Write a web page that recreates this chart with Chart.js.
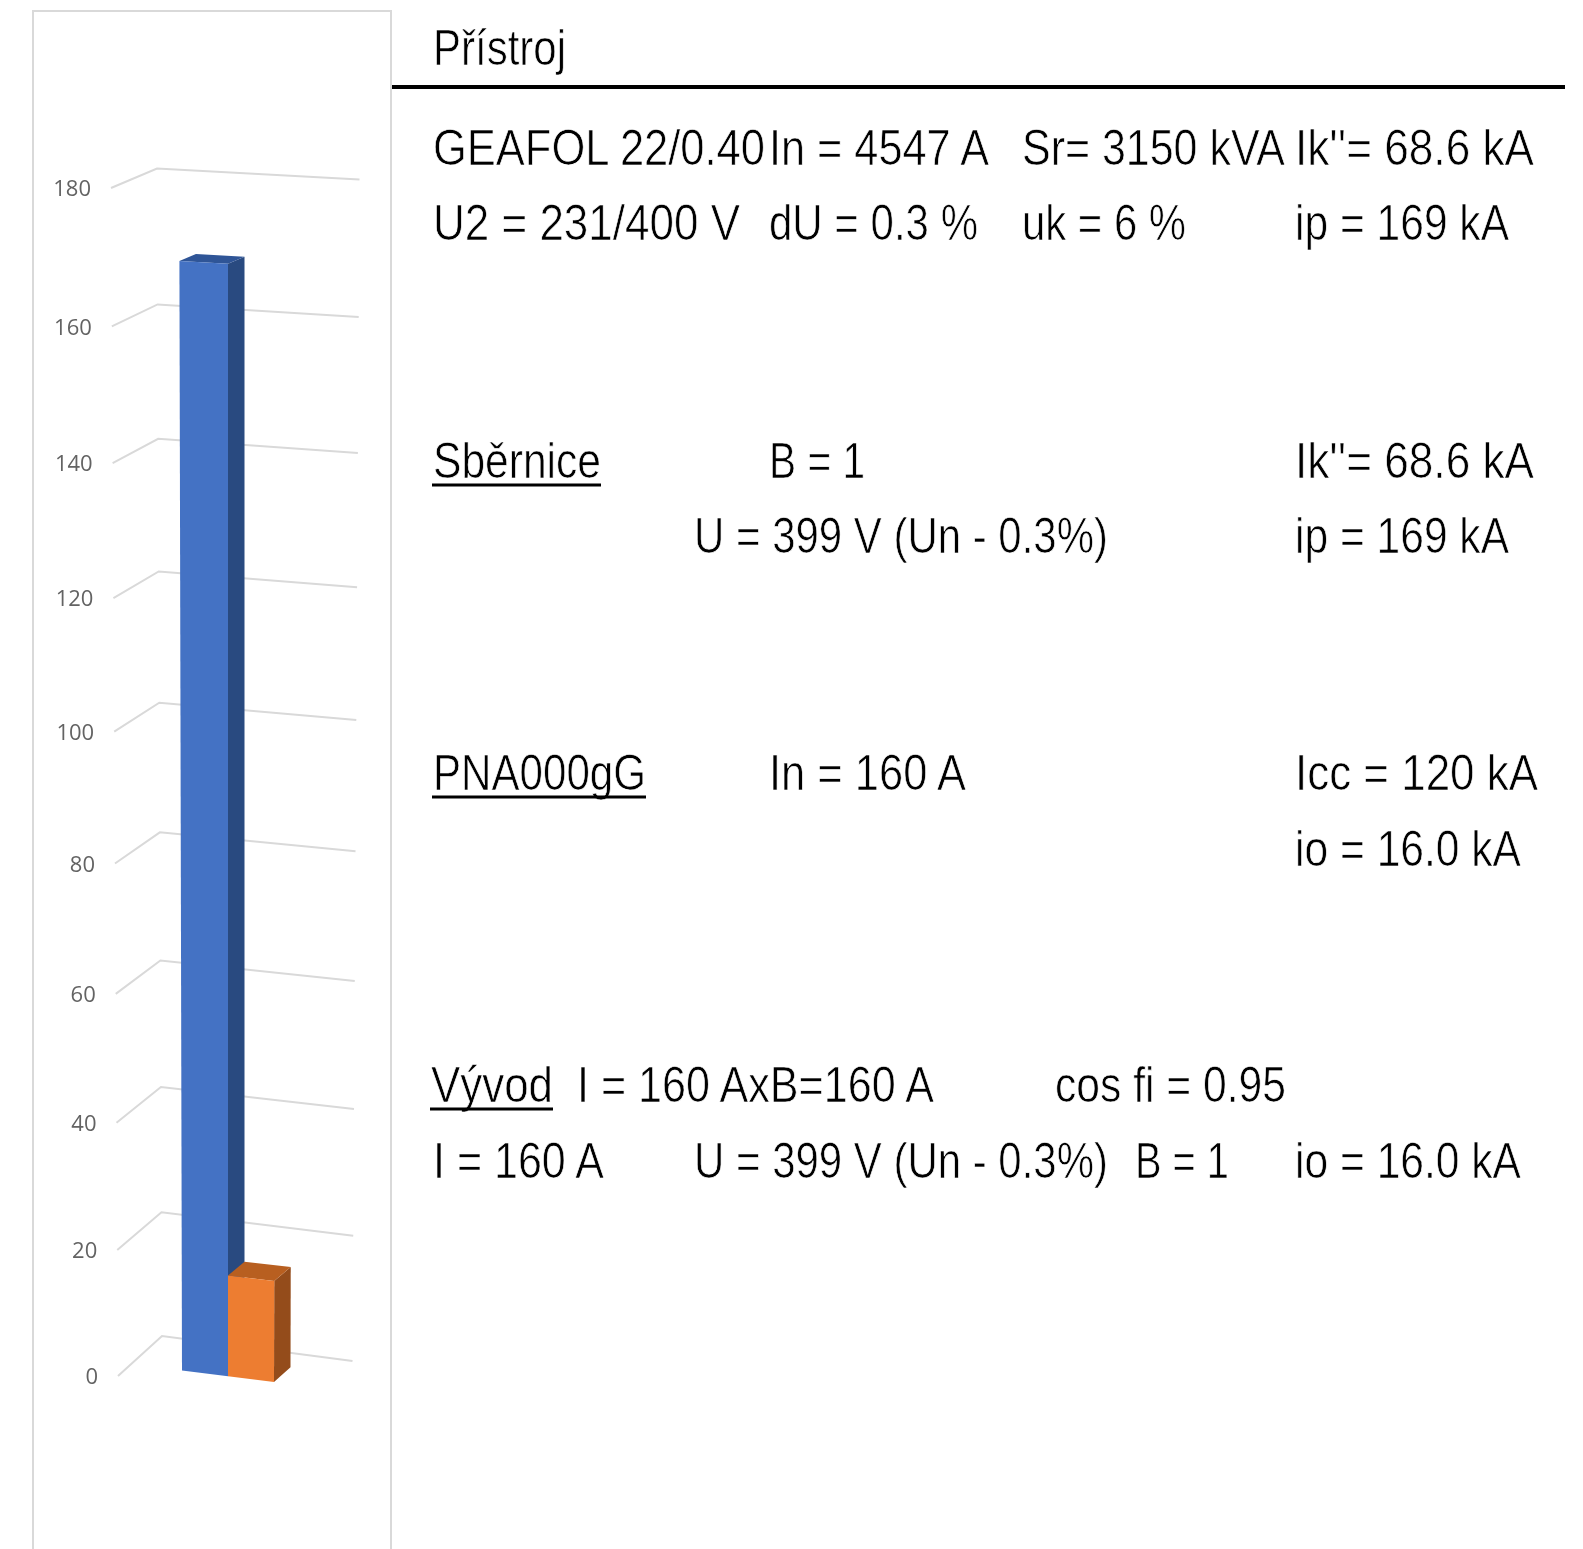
<!DOCTYPE html>
<html>
<head>
<meta charset="utf-8">
<title>Přístroj</title>
<script src="https://cdn.jsdelivr.net/npm/chart.js@4"></script>
<style>
  html, body { margin: 0; padding: 0; background: #fff; }
  body { position: relative; width: 1583px; height: 1549px; overflow: hidden; }
  #frame { position: absolute; left: 32px; top: 10px; width: 360px; height: 1541px;
           border: 2px solid #d9d9d9; box-sizing: border-box; }
  #chart { position: absolute; left: 0; top: 0; }
  #panel { position: absolute; left: 0; top: 0; }
  /* white outline thins the glyphs, the original bitmap font has very thin strokes */
  #panel text { font-family: "Liberation Sans", sans-serif; font-size: 50px; fill: #000;
                stroke: #fff; stroke-width: 0.7px; paint-order: fill stroke; }
</style>
</head>
<body>
<div id="frame"></div>
<canvas id="chart" width="392" height="1549"></canvas>
<svg id="panel" width="1583" height="1549"></svg>
<script>
const categories = ['Vývod'];
const ipValues = [169];
const ioValues = [16];
const yTicks = [0, 20, 40, 60, 80, 100, 120, 140, 160, 180];

// text, left, right, baseline, underlined
const panelTexts = [
  ['Přístroj', 434, 566, 65, false],
  ['GEAFOL 22/0.40', 434, 765, 165, false],
  ['In = 4547 A', 770, 989, 165, false],
  ['Sr= 3150 kVA', 1023, 1285, 165, false],
  ["Ik''= 68.6 kA", 1296, 1534, 165, false],
  ['U2 = 231/400 V', 434, 740, 240, false],
  ['dU = 0.3 %', 770, 978, 240, false],
  ['uk = 6 %', 1023, 1186, 240, false],
  ['ip = 169 kA', 1296, 1509, 240, false],
  ['Sběrnice', 434, 601, 478, true],
  ['B = 1', 770, 865, 478, false],
  ["Ik''= 68.6 kA", 1296, 1534, 478, false],
  ['U = 399 V (Un - 0.3%)', 695, 1108, 553, false],
  ['ip = 169 kA', 1296, 1509, 553, false],
  ['PNA000gG', 434, 646, 790, true],
  ['In = 160 A', 770, 966, 790, false],
  ['Icc = 120 kA', 1296, 1538, 790, false],
  ['io = 16.0 kA', 1296, 1521, 866, false],
  ['Vývod', 432, 553, 1102, true],
  ['I = 160 AxB=160 A', 578, 934, 1102, false],
  ['cos fi = 0.95', 1056, 1286, 1102, false],
  ['I = 160 A', 434, 604, 1178, false],
  ['U = 399 V (Un - 0.3%)', 695, 1108, 1178, false],
  ['B = 1', 1136, 1229, 1178, false],
  ['io = 16.0 kA', 1296, 1521, 1178, false],
];

const SVG_NS = 'http://www.w3.org/2000/svg';

function drawPanel() {
  const panel = document.getElementById('panel');

  function addLine(x1, x2, y, width) {
    const line = document.createElementNS(SVG_NS, 'line');
    line.setAttribute('x1', x1);
    line.setAttribute('x2', x2);
    line.setAttribute('y1', y);
    line.setAttribute('y2', y);
    line.setAttribute('stroke', '#000');
    line.setAttribute('stroke-width', width);
    panel.appendChild(line);
  }

  addLine(392, 1565, 87, 4);

  panelTexts.forEach(([label, left, right, baseline, underlined]) => {
    const text = document.createElementNS(SVG_NS, 'text');
    text.textContent = label;
    text.setAttribute('x', left - 1);
    text.setAttribute('y', baseline);
    text.setAttribute('textLength', right - left + 1);
    text.setAttribute('lengthAdjust', 'spacingAndGlyphs');
    panel.appendChild(text);
    if (underlined) {
      addLine(left - 2, right, baseline + 7, 3);
    }
  });
}

drawPanel();

// The Excel 3D walls shrink towards the top, so ticks are not evenly spaced
const PERSPECTIVE = 0.9485;

class PerspectiveScale extends Chart.LinearScale {
  getPixelForValue(value) {
    const t = (value - this.min) / (this.max - this.min);
    const g = (t * PERSPECTIVE) / (1 + t * (PERSPECTIVE - 1));
    return this.bottom - (this.bottom - this.top) * g;
  }

  _computeLabelItems(chartArea) {
    const items = super._computeLabelItems(chartArea);
    items.forEach((item) => {
      const y = item.options.translation[1];
      item.options.translation[0] = lerp(91, 98, depthRatio(this, y));
      item.options.translation[1] = y + 2;
    });
    return items;
  }
}
PerspectiveScale.id = 'perspective';
PerspectiveScale.defaults = Chart.LinearScale.defaults;
Chart.register(PerspectiveScale);

function lerp(a, b, t) {
  return a + (b - a) * t;
}

// 0 at the top of the axis, 1 at the bottom
function depthRatio(scale, y) {
  return (y - scale.top) / (scale.bottom - scale.top);
}

const wall3d = {
  id: 'wall3d',
  beforeDatasetsDraw(chart) {
    const { ctx } = chart;
    const scale = chart.scales.y;
    ctx.save();
    ctx.strokeStyle = '#d9d9d9';
    ctx.lineWidth = 2;
    scale.ticks.forEach((tick) => {
      const y = scale.getPixelForValue(tick.value);
      const t = depthRatio(scale, y);
      ctx.beginPath();
      ctx.moveTo(lerp(111, 118, t), y);
      ctx.lineTo(lerp(157, 162, t), y + lerp(-19.5, -40, t));
      ctx.lineTo(lerp(359.5, 352.5, t), y + lerp(-8.5, -15, t));
      ctx.stroke();
    });
    ctx.restore();
  },
  beforeDatasetDraw() {
    // bars are drawn together below, blue first, because the orange one overlaps it
    return false;
  },
  afterDatasetsDraw(chart) {
    chart.data.datasets.forEach((dataset, index) => {
      chart.getDatasetMeta(index).data.forEach((bar) => {
        drawBar3d(chart, bar, dataset);
      });
    });
  },
};

function drawBar3d(chart, bar, dataset) {
  const { ctx } = chart;
  const scale = chart.scales.y;
  const xLeft = bar.x - bar.width / 2;
  const xRight = bar.x + bar.width / 2;

  // front plane point, slightly turned and leaning like the reference
  function front(x, y) {
    const t = depthRatio(scale, y);
    const slope = lerp(0.055, 0.125, t);
    return [x + (x - 228) * 0.06 * (1 - t), y - 1 + slope * (x - 219)];
  }
  function back(point) {
    const t = depthRatio(scale, point[1]);
    return [point[0] + 16.5, point[1] - lerp(6.5, 14.5, t)];
  }
  function fillFace(points, color) {
    ctx.beginPath();
    points.forEach((p, i) => (i ? ctx.lineTo(p[0], p[1]) : ctx.moveTo(p[0], p[1])));
    ctx.closePath();
    ctx.fillStyle = color;
    ctx.fill();
  }

  const topLeft = front(xLeft, bar.y);
  const topRight = front(xRight, bar.y);
  const baseLeft = front(xLeft, bar.base);
  const baseRight = front(xRight, bar.base);

  fillFace([topRight, back(topRight), back(baseRight), baseRight], dataset.sideColor);
  fillFace([topLeft, topRight, back(topRight), back(topLeft)], dataset.topColor);
  fillFace([topLeft, topRight, baseRight, baseLeft], dataset.backgroundColor);
}

const ctx = document.getElementById('chart').getContext('2d');
new Chart(ctx, {
  type: 'bar',
  data: {
    labels: categories,
    datasets: [
      {
        label: 'ip',
        data: ipValues,
        backgroundColor: '#4472c4',
        topColor: '#2f5597',
        sideColor: '#294a80',
        barThickness: 46,
      },
      {
        label: 'io',
        data: ioValues,
        backgroundColor: '#ed7d31',
        topColor: '#b85f20',
        sideColor: '#944c1b',
        barThickness: 46,
      },
    ],
  },
  options: {
    responsive: false,
    animation: false,
    layout: {
      padding: { top: 188, bottom: 173, left: 0, right: 36 },
    },
    plugins: {
      legend: { display: false },
      title: { display: false },
      tooltip: { enabled: false },
    },
    scales: {
      x: { display: false, grid: { display: false } },
      y: {
        type: 'perspective',
        min: 0,
        max: 180,
        grid: { display: false },
        border: { display: false },
        afterBuildTicks: (scale) => {
          scale.ticks = yTicks.map((value) => ({ value }));
        },
        afterFit: (scale) => {
          scale.width = 100;
        },
        ticks: {
          color: '#636363',
          padding: 0,
          font: { family: '"Open Sans", sans-serif', size: 22 },
        },
      },
    },
  },
  plugins: [wall3d],
});
</script>
</body>
</html>
